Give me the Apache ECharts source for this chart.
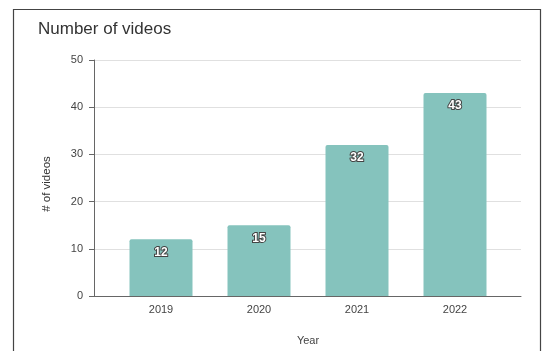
<!doctype html>
<html lang="en">

<head>
	<meta charset="UTF-8">
	<title>Number of videos</title>
	<script src="https://cdn.jsdelivr.net/npm/echarts@6/dist/echarts.min.js"></script>
	<style>
		html, body { margin: 0; padding: 0; background: #fff; }
		#chart { width: 551px; height: 351px; }
	</style>
</head>

<body>
	<div id="chart"></div>

	<script>
		// data
		var years = ['2019', '2020', '2021', '2022'];
		var videoCounts = [12, 15, 32, 43];
		var yTicks = [0, 10, 20, 30, 40, 50];

		var chart = echarts.init(document.getElementById('chart'));
		var font = 'Arial, "Liberation Sans", sans-serif';

		var option = {
			backgroundColor: '#fff',
			animation: false,
			title: {
				text: 'Number of videos',
				left: 33,
				top: 16,
				textStyle: { fontFamily: font, fontSize: 17, fontWeight: 'normal', color: '#333' }
			},
			graphic: [{
				type: 'rect',
				shape: { x: 13.5, y: 9.5, width: 527, height: 360 },
				style: { fill: 'none', stroke: '#444', lineWidth: 1.2 },
				silent: true
			}],
			grid: [
				// frame grid: y axis, gridlines, bottom axis line
				{ left: 94, right: 30, top: 60, bottom: 55, outerBoundsMode: 'none' },
				// bar grid
				{ left: 112, right: 47, top: 60, bottom: 55, outerBoundsMode: 'none' }
			],
			xAxis: [
				{
					gridIndex: 0,
					type: 'value',
					min: 0, max: 1,
					axisLine: { show: true, onZero: false, lineStyle: { color: '#666', width: 1 } },
					axisTick: { show: false },
					axisLabel: { show: false },
					splitLine: { show: false }
				},
				{
					gridIndex: 1,
					type: 'category',
					data: years,
					axisLine: { show: false },
					axisTick: { show: false },
					axisLabel: { margin: 8, fontFamily: font, fontSize: 11, color: '#444' },
					name: 'Year',
					nameLocation: 'middle',
					nameGap: 39,
					nameTextStyle: { fontFamily: font, fontSize: 11, color: '#444' }
				}
			],
			yAxis: [
				{
					gridIndex: 0,
					type: 'value',
					min: yTicks[0],
					max: yTicks[yTicks.length - 1],
					interval: 10,
					axisLine: { show: true, lineStyle: { color: '#666', width: 1 } },
					axisTick: { show: true, length: 5, lineStyle: { color: '#666' } },
					axisLabel: { margin: 11, fontFamily: font, fontSize: 11, color: '#444' },
					splitLine: { show: true, lineStyle: { color: '#e0e0e0', width: 1 } },
					name: '# of videos',
					nameLocation: 'middle',
					nameGap: 41,
					nameTextStyle: { fontFamily: font, fontSize: 11.5, color: '#333', padding: [0, 12, 0, 0] }
				},
				{
					gridIndex: 1,
					type: 'value',
					min: yTicks[0],
					max: yTicks[yTicks.length - 1],
					show: false,
					splitLine: { show: false }
				}
			],
			series: [
				{
					type: 'bar',
					xAxisIndex: 1,
					yAxisIndex: 1,
					data: videoCounts,
					barWidth: 63,
					itemStyle: { color: '#85c3bd', borderRadius: [2, 2, 0, 0] },
					label: {
						show: true,
						position: 'insideTop',
						distance: 7,
						fontFamily: font,
						fontSize: 12,
						fontWeight: 'bold',
						color: '#fff',
						textBorderColor: '#444',
						textBorderWidth: 2
					}
				}
			]
		};
		chart.setOption(option);
	</script>
</body>

</html>
